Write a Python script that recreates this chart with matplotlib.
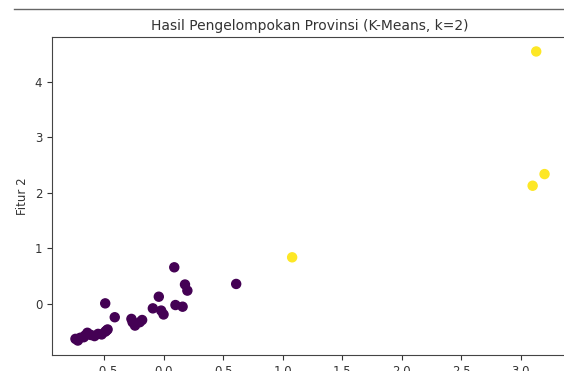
import matplotlib
matplotlib.use('Agg')
import matplotlib.pyplot as plt
from matplotlib.lines import Line2D
import numpy as np

# fitur hasil standardisasi
fitur_1 = [-0.74, -0.72, -0.70, -0.67, -0.64, -0.61, -0.58, -0.55, -0.52, -0.49,
           -0.47, -0.48, -0.66,
           -0.49, -0.41, -0.27, -0.26, -0.24, -0.20, -0.18, -0.09, -0.04, -0.02,
           0.00, 0.09, 0.10, 0.16, 0.18, 0.20, 0.61,
           1.08, 3.13, 3.20, 3.10]
fitur_2 = [-0.63, -0.66, -0.61, -0.60, -0.52, -0.56, -0.58, -0.54, -0.55, -0.50,
           -0.46, -0.48, -0.57,
           0.01, -0.24, -0.27, -0.33, -0.39, -0.33, -0.29, -0.08, 0.13, -0.12,
           -0.19, 0.66, -0.02, -0.05, 0.35, 0.24, 0.36,
           0.84, 4.55, 2.34, 2.13]
cluster = [0] * 30 + [1] * 4

plt.rcParams['text.color'] = '#333333'
plt.rcParams['axes.labelcolor'] = '#333333'
plt.rcParams['xtick.color'] = '#333333'
plt.rcParams['ytick.color'] = '#333333'
plt.rcParams['axes.edgecolor'] = '#444444'

fig = plt.figure(figsize=(5.64, 3.71), dpi=100)
ax = fig.add_axes([52/564, 16/371, 516/564, 318/371])

ax.scatter(fitur_1, fitur_2, c=cluster, cmap='viridis', s=42)
ax.set_title('Hasil Pengelompokan Provinsi (K-Means, k=2)', fontsize=10, pad=5)
ax.set_xlabel('Fitur 1', fontsize=8.5)
ax.set_ylabel('Fitur 2', fontsize=8.5)
ax.tick_params(labelsize=8.5)

# garis batas sel notebook di atas gambar
fig.add_artist(Line2D([14/564, 1.0], [1 - 9/371, 1 - 9/371], transform=fig.transFigure,
                      color='#666666', lw=1))

fig.savefig('out.png', dpi=100)
